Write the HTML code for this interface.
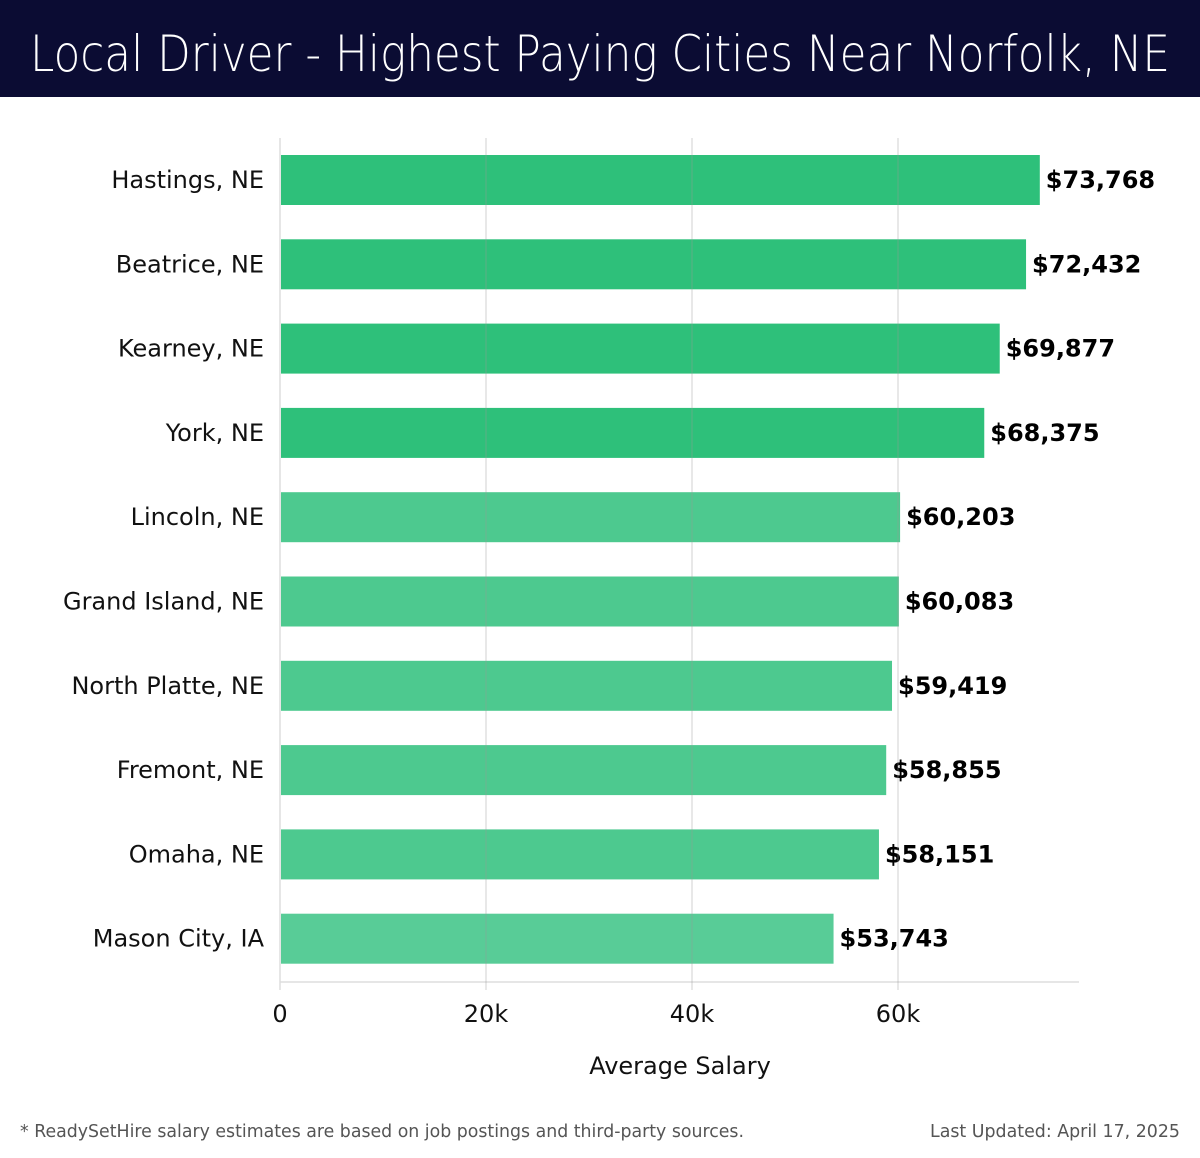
<!DOCTYPE html>
<html><head><meta charset="utf-8"><style>
body{margin:0;background:#fff;width:1200px;height:1158px;overflow:hidden;font-family:"Liberation Sans","DejaVu Sans",sans-serif}
#hdr{position:absolute;left:0;top:0;width:1200px;height:97px;background:#0b0c33}
#foot{position:absolute;left:0;top:1100px}
</style></head><body>
<svg id="hdr" width="1200" height="97"><text x="30" y="71" textLength="1140" lengthAdjust="spacingAndGlyphs" font-size="50" fill="#fff" font-weight="300" font-family="DejaVu Sans, Liberation Sans, sans-serif">Local Driver - Highest Paying Cities Near Norfolk, NE</text></svg>
<svg id="chart" width="1200" height="1100" style="position:absolute;left:0;top:0"></svg>
<svg id="foot" width="1200" height="58">
<text x="20" y="37" textLength="724" lengthAdjust="spacingAndGlyphs" font-size="18" fill="#555" font-family="DejaVu Sans, Liberation Sans, sans-serif">* ReadySetHire salary estimates are based on job postings and third-party sources.</text>
<text x="930" y="37" textLength="250" lengthAdjust="spacingAndGlyphs" font-size="18" fill="#555" font-family="DejaVu Sans, Liberation Sans, sans-serif">Last Updated: April 17, 2025</text>
</svg>
<script>
const cities=["Hastings, NE","Beatrice, NE","Kearney, NE","York, NE","Lincoln, NE","Grand Island, NE","North Platte, NE","Fremont, NE","Omaha, NE","Mason City, IA"];
const salaries=[73768,72432,69877,68375,60203,60083,59419,58855,58151,53743];
const tickValues=[0,20000,40000,60000];
const tickLabels=["0","20k","40k","60k"];
const NS="http://www.w3.org/2000/svg",svg=document.getElementById('chart');
const x0=280,pxPer=206/20000,top0=138,step=84.3,barH=50;
const xs=v=>x0+v*pxPer, yc=i=>top0+42+i*step;
function mk(t,a){const e=document.createElementNS(NS,t);for(const k in a)e.setAttribute(k,a[k]);svg.appendChild(e);return e;}
let e=mk('line',{x1:x0,x2:x0,y1:top0,y2:990,stroke:'#ddd','stroke-width':1.5});


e=mk('line',{x1:x0,x2:1079,y1:982,y2:982,stroke:'#ddd','stroke-width':1.5});


cities.forEach((c,i)=>{
  const v=salaries[i],col=i<4?'#2ec07a':(i<9?'#4dc98f':'#58cc97');
  const r=mk('rect',{x:x0+1,y:yc(i)-barH/2,width:xs(v)-x0-1,height:barH,fill:col});
  
  
  const l=mk('text',{x:264,y:yc(i)+8,'text-anchor':'end','font-size':24,fill:'#111','font-family':'DejaVu Sans, Liberation Sans, sans-serif'});
  l.textContent=c;
  
  
  const t=mk('text',{x:xs(v)+6,y:yc(i)+8,'font-size':24,'font-weight':'bold',fill:'#000','font-family':'DejaVu Sans, Liberation Sans, sans-serif'});
  t.textContent='$'+v.toLocaleString('en-US');
  
  
});
tickValues.forEach((v,i)=>{
  const x=xs(v);
  if(v>0){const g=mk('line',{x1:x,x2:x,y1:top0,y2:990,stroke:'#999','stroke-opacity':0.3,'stroke-width':1.5});
  
  }
  const t=mk('text',{x:x,y:1022,'text-anchor':'middle','font-size':24,fill:'#111','font-family':'DejaVu Sans, Liberation Sans, sans-serif'});
  t.textContent=tickLabels[i];
  
  
});
e=mk('text',{x:680,y:1074,'text-anchor':'middle','font-size':24,fill:'#111','font-family':'DejaVu Sans, Liberation Sans, sans-serif'});
e.textContent='Average Salary';


</script>
</body></html>
